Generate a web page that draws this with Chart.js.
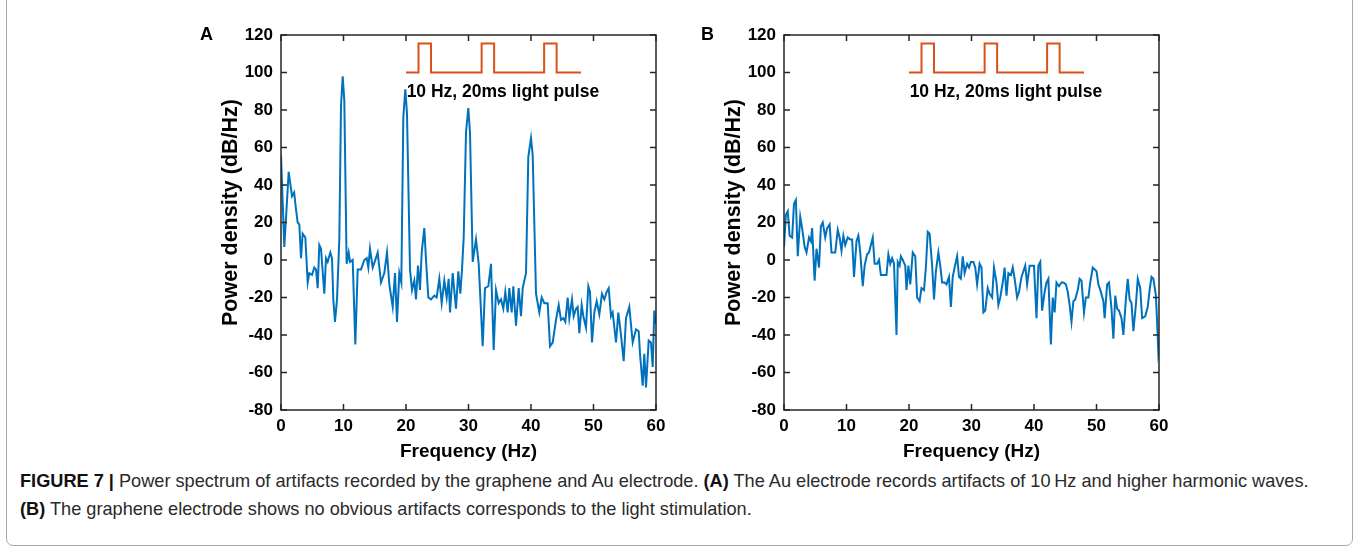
<!DOCTYPE html>
<html><head><meta charset="utf-8">
<script src="https://cdn.jsdelivr.net/npm/chart.js@4.4.1/dist/chart.umd.min.js"></script>
<style>
html,body{margin:0;padding:0;background:#fff;width:1358px;height:554px;overflow:hidden;position:relative;font-family:"Liberation Sans",Arial,sans-serif;}
.frame{position:absolute;left:6px;top:-10px;width:1347px;height:556px;border:1px solid #a8a8a8;border-radius:7px;box-sizing:border-box;}
canvas{position:absolute;top:0;}
#ca{left:190px}
#cb{left:693px}
.lbl{position:absolute;top:24px;font-weight:bold;font-size:18px;color:#000;}
.cap{position:absolute;left:20px;font-family:"Liberation Sans Narrow","Arial Narrow","Liberation Sans",sans-serif;font-size:19px;color:#2a2a2a;white-space:nowrap;transform-origin:0 50%;transform:scaleX(0.956);}
.cap b{color:#111;}
</style>
</head><body>
<div class="frame"></div>
<canvas id="ca" width="490" height="470"></canvas>
<canvas id="cb" width="490" height="470"></canvas>
<div class="lbl" style="left:200px">A</div>
<div class="lbl" style="left:701px">B</div>
<div class="cap" style="top:470px"><b>FIGURE 7 |</b> Power spectrum of artifacts recorded by the graphene and Au electrode. <b>(A)</b> The Au electrode records artifacts of 10&thinsp;Hz and higher harmonic waves.</div>
<div class="cap" style="top:498px"><b>(B)</b> The graphene electrode shows no obvious artifacts corresponds to the light stimulation.</div>
<script>
// ---- Data ----
const freqA = [0,0.53,1.23,1.76,2.1,2.4,2.67,2.93,3.2,3.47,3.89,4.27,4.53,4.96,5.33,5.6,5.87,6.13,6.4,6.93,7.2,7.47,7.89,8.16,8.37,8.64,8.96,9.33,9.6,9.87,10.13,10.5,10.83,11.04,11.47,11.89,12.27,12.8,13.33,13.71,13.97,14.24,14.67,14.99,15.47,16.0,16.53,16.96,17.33,17.87,18.24,18.56,18.93,19.25,19.57,19.89,20.16,20.64,20.96,21.33,21.6,21.92,22.24,22.51,22.93,23.2,23.57,24.0,24.53,24.91,25.33,25.71,26.13,26.51,26.83,27.04,27.47,28.0,28.37,28.69,28.96,29.23,29.6,29.97,30.24,30.67,31.2,31.63,32.27,32.64,33.17,33.6,34.03,34.4,34.83,35.2,35.57,35.89,36.27,36.53,36.91,37.17,37.6,38.03,38.4,38.67,39.2,39.57,40.0,40.27,40.8,41.33,41.71,42.13,42.67,43.04,43.47,44.0,44.43,44.8,45.17,45.49,45.87,46.13,46.56,46.83,47.2,47.47,47.73,48.11,48.37,48.8,49.17,49.44,49.76,50.13,50.51,50.93,51.36,51.73,52.11,52.43,52.8,53.07,53.6,53.97,54.4,54.83,55.2,55.73,56.27,56.8,57.23,57.44,57.87,58.13,58.4,58.83,59.2,59.47,59.73,60.0];
const powerA = [56,7,47,34,36,27,20,19,1,14,12,-12,-7,-8,-4,-5,-15,8,6,-18,1,-1,4,1,-21,-33,-21,11,82,98,85,-2,4,-1,0,-45,-5,-5,0,1,-4,6,-4,-1,4,-12,-7,4,-13,-25,-7,-33,-7,-12,76,91,78,-5,-16,-11,-21,-3,-16,4,17,0,-20,-21,-19,-20,-10,-23,-11,-20,-10,-28,-7,-26,-6,-18,-5,12,68,81,68,-1,11,-2,-46,-15,-14,-2,-48,-16,-23,-21,-26,-17,-28,-15,-28,-14,-35,-15,-30,-15,-7,55,65,56,-18,-28,-20,-23,-23,-46,-44,-32,-24,-32,-31,-33,-20,-31,-21,-30,-26,-25,-39,-24,-30,-36,-14,-17,-44,-28,-22,-29,-18,-21,-17,-15,-30,-28,-44,-28,-40,-54,-31,-25,-44,-37,-38,-50,-67,-50,-68,-43,-44,-57,-27,-34];

const freqB = [0,0.3,0.6,0.9,1.3,1.6,1.9,2.2,2.6,2.9,3.3,3.6,4.0,4.3,4.5,4.9,5.2,5.6,5.9,6.2,6.6,6.9,7.3,7.6,7.9,8.2,8.6,8.9,9.2,9.5,9.8,10.2,10.6,10.9,11.2,11.6,11.9,12.2,12.6,12.9,13.3,13.6,13.9,14.2,14.5,14.9,15.2,15.5,15.9,16.4,16.7,17.0,17.3,17.6,18.0,18.2,18.5,18.7,19.0,19.4,19.6,19.9,20.2,20.6,21.0,21.3,21.7,22.0,22.4,22.7,23.0,23.3,23.7,24.0,24.3,24.7,25.0,25.3,25.7,26.0,26.4,26.7,27.0,27.3,27.7,28.0,28.3,28.6,28.9,29.3,29.6,29.9,30.3,30.6,30.9,31.3,31.6,31.9,32.2,32.6,32.9,33.3,33.6,34.0,34.3,34.6,35.0,35.3,35.6,35.9,36.3,36.6,36.9,37.3,37.6,38.0,38.3,38.6,38.9,39.3,39.6,40.0,40.4,40.7,41.0,41.3,41.7,42.0,42.3,42.7,43.0,43.3,43.6,44.0,44.4,44.7,45.1,45.4,45.7,46.0,46.3,46.6,47.0,47.3,47.6,48.0,48.3,48.7,49.0,49.4,49.7,50.0,50.3,50.7,51.1,51.3,51.7,52.0,52.4,52.7,53.0,53.3,53.6,54.0,54.3,54.7,55.0,55.3,55.6,55.9,56.3,56.6,57.0,57.3,57.8,58.2,58.5,58.8,59.1,59.5,59.7,59.9,60.0];
const powerB = [7,24,26,13,12,30,32,2,23,17,7,4,12,10,17,-11,6,-4,18,20,12,17,19,4,4,4,16,12,5,13,8,12,11,11,-9,10,13,4,-14,-3,3,4,8,12,-2,-2,0,-8,-8,-8,3,-2,1,-2,-40,-1,-3,2,0,-3,-16,-3,-13,4,2,-20,-22,-15,-16,-4,15,14,-3,-21,-6,4,-3,-12,-12,-13,-9,-25,-9,-4,2,-9,-10,2,-7,-2,-4,-1,-1,-4,-13,-2,-4,-28,-27,-15,-18,-20,-4,-12,-24,-20,-12,-4,-19,-7,-8,-4,-10,-20,-17,-9,-6,-3,-13,-3,-3,-3,-31,-3,-1,-27,-17,-12,-10,-45,-20,-28,-12,-14,-12,-12,-13,-17,-24,-33,-22,-21,-16,-10,-11,-28,-20,-20,-12,-4,-5,-6,-13,-17,-22,-31,-13,-12,-26,-42,-19,-26,-27,-31,-40,-21,-10,-21,-23,-38,-24,-10,-15,-31,-30,-25,-16,-9,-10,-19,-33,-50,-48];

// light-pulse inset trace (same for both panels)
const pulseFreq  = [20.0,22.0,22.0,24.0,24.0,32.1,32.1,34.1,34.1,42.1,42.1,44.1,44.1,48.0];
const pulseLevel = [100,100,115.5,115.5,100,100,115.5,115.5,100,100,115.5,115.5,100,100];

const noteText = '10 Hz, 20ms light pulse';
const noteAt = {x: 20.1, y: 89.5};

const xTitle = 'Frequency (Hz)';
const yTitle = 'Power density (dB/Hz)';
const xRange = [0, 60], xStep = 10;
const yRange = [-80, 120], yStep = 20;

const FONT = '"Liberation Sans", Arial, Helvetica, sans-serif';
Chart.defaults.font.family = FONT;

const framePlugin = {
  id: 'frame',
  afterDatasetsDraw(chart, args, opts) {
    const {ctx, chartArea: a, scales: {x, y}} = chart;
    ctx.save();
    ctx.strokeStyle = '#262626';
    ctx.lineWidth = 1.5;
    ctx.strokeRect(a.left, a.top, a.right - a.left, a.bottom - a.top);
    const L = 6;
    ctx.beginPath();
    x.ticks.forEach(t => {
      const px = x.getPixelForValue(t.value);
      ctx.moveTo(px, a.bottom); ctx.lineTo(px, a.bottom - L);
      ctx.moveTo(px, a.top); ctx.lineTo(px, a.top + L);
    });
    y.ticks.forEach(t => {
      const py = y.getPixelForValue(t.value);
      ctx.moveTo(a.left, py); ctx.lineTo(a.left + L, py);
      ctx.moveTo(a.right, py); ctx.lineTo(a.right - L, py);
    });
    ctx.stroke();
    // inset annotation
    ctx.font = 'bold 17.5px ' + FONT;
    ctx.fillStyle = '#000';
    ctx.textAlign = 'left';
    ctx.textBaseline = 'middle';
    ctx.fillText(opts.text, x.getPixelForValue(opts.x), y.getPixelForValue(opts.y));
    // y-axis title
    ctx.translate(a.left - 50, (a.top + a.bottom) / 2 - 10);
    ctx.rotate(-Math.PI / 2);
    ctx.textAlign = 'center';
    ctx.font = 'bold 21.5px ' + FONT;
    ctx.fillText(opts.yTitle, 0, 0);
    ctx.restore();
  }
};

function makeChart(id, freq, power) {
  new Chart(document.getElementById(id), {
    type: 'line',
    data: {
      datasets: [
        {data: freq.map((f, i) => ({x: f, y: power[i]})), borderColor: '#0072BD', borderWidth: 2, pointRadius: 0, tension: 0, fill: false},
        {data: pulseFreq.map((f, i) => ({x: f, y: pulseLevel[i]})), borderColor: '#D95319', borderWidth: 2, pointRadius: 0, tension: 0, fill: false}
      ]
    },
    options: {
      responsive: false,
      animation: false,
      devicePixelRatio: 1,
      layout: {padding: {top: 35, right: 24, left: 0, bottom: 0}},
      plugins: {
        legend: {display: false},
        tooltip: {enabled: false},
        frame: {text: noteText, x: noteAt.x, y: noteAt.y, yTitle: yTitle}
      },
      scales: {
        x: {
          type: 'linear', min: xRange[0], max: xRange[1],
          ticks: {stepSize: xStep, color: '#000', font: {size: 17, weight: 'bold'}, padding: 6, maxRotation: 0},
          grid: {display: false, drawTicks: false},
          border: {display: false},
          title: {display: true, text: xTitle, color: '#000', font: {size: 19, weight: 'bold'}, padding: {top: 0, bottom: 7}},
          afterFit(s) { s.height = 60; }
        },
        y: {
          type: 'linear', min: yRange[0], max: yRange[1],
          ticks: {stepSize: yStep, color: '#000', font: {size: 17, weight: 'bold'}, padding: 8},
          grid: {display: false, drawTicks: false},
          border: {display: false},
          title: {display: false, text: yTitle},
          afterFit(s) { s.width = 91; }
        }
      }
    },
    plugins: [framePlugin]
  });
}

makeChart('ca', freqA, powerA);
makeChart('cb', freqB, powerB);
</script>
</body></html>
